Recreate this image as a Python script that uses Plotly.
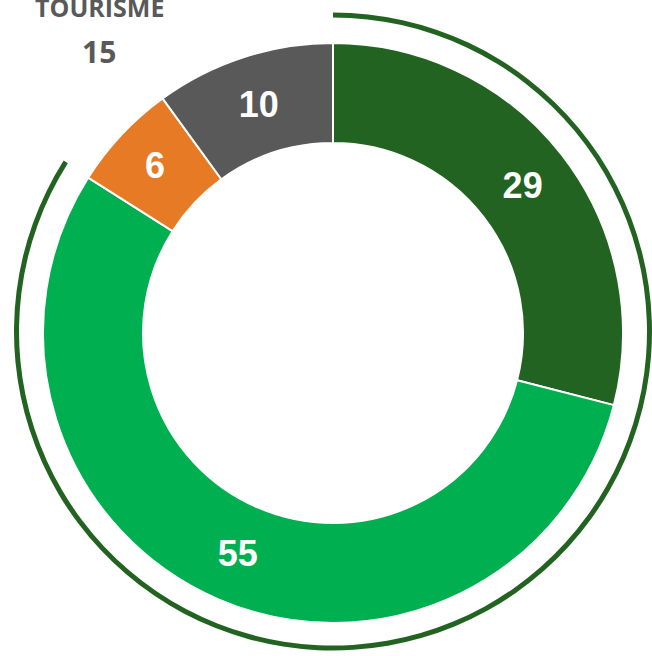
import plotly.graph_objects as go

# Slice values of the ring, clockwise from 12 o'clock
categories = ["Secteur 1", "Secteur 2", "Secteur 3", "Secteur 4"]
values = [29, 55, 6, 10]
colors = ["#236321", "#00AF50", "#E77A24", "#595959"]

# Outer arc groups the first two slices; the remainder is left blank
group_labels = ["Groupe vert", "TOURISME"]
group_values = [values[0] + values[1], values[2] + values[3]]
group_colors = ["#236321", "rgba(0,0,0,0)"]

# Text shown beside the blank part of the outer arc
tourism_title = "TOURISME"
tourism_number = "15"

W, H = 652, 656
cx, cy = 333, 333          # ring centre, pixels from top-left
r_ring, r_hole = 290, 190
arc_cy = 331.5             # outer arc centre height
r_arc = W - cx             # outer arc fills up to the right edge
arc_width = 5


def dom(r, centre_y):
    x = [(cx - r) / W, (cx + r) / W]
    y = [(H - centre_y - r) / H, (H - centre_y + r) / H]
    return dict(x=[max(0, x[0]), min(1, x[1])], y=[max(0, y[0]), min(1, y[1])])


fig = go.Figure()

fig.add_trace(go.Pie(
    labels=group_labels,
    values=group_values,
    sort=False,
    direction="clockwise",
    rotation=0,
    hole=(r_arc - arc_width) / r_arc,
    domain=dom(r_arc, arc_cy),
    marker=dict(colors=group_colors, line=dict(width=0)),
    textinfo="none",
    hoverinfo="label+value",
    showlegend=False,
))

fig.add_trace(go.Pie(
    labels=categories,
    values=values,
    sort=False,
    direction="clockwise",
    rotation=0,
    hole=r_hole / r_ring,
    domain=dom(r_ring, cy),
    marker=dict(colors=colors, line=dict(color="white", width=2)),
    textinfo="value",
    textposition="inside",
    insidetextorientation="horizontal",
    textfont=dict(family="Liberation Sans, Arial, sans-serif", size=36,
                  color="white", weight="bold"),
    showlegend=False,
))

fig.add_annotation(
    x=99 / W, y=(H - 7) / H, xref="paper", yref="paper",
    text=f"<b>{tourism_title}</b>", showarrow=False,
    xanchor="center", yanchor="middle",
    font=dict(family="Open Sans, sans-serif", size=25, color="#595959"),
)
fig.add_annotation(
    x=99 / W, y=(H - 51) / H, xref="paper", yref="paper",
    text=f"<b>{tourism_number}</b>", showarrow=False,
    xanchor="center", yanchor="middle",
    font=dict(family="Open Sans, sans-serif", size=30, color="#595959"),
)

fig.update_layout(
    width=W, height=H,
    margin=dict(l=0, r=0, t=0, b=0),
    paper_bgcolor="white",
    plot_bgcolor="white",
    showlegend=False,
)

fig.write_html("out.html")
